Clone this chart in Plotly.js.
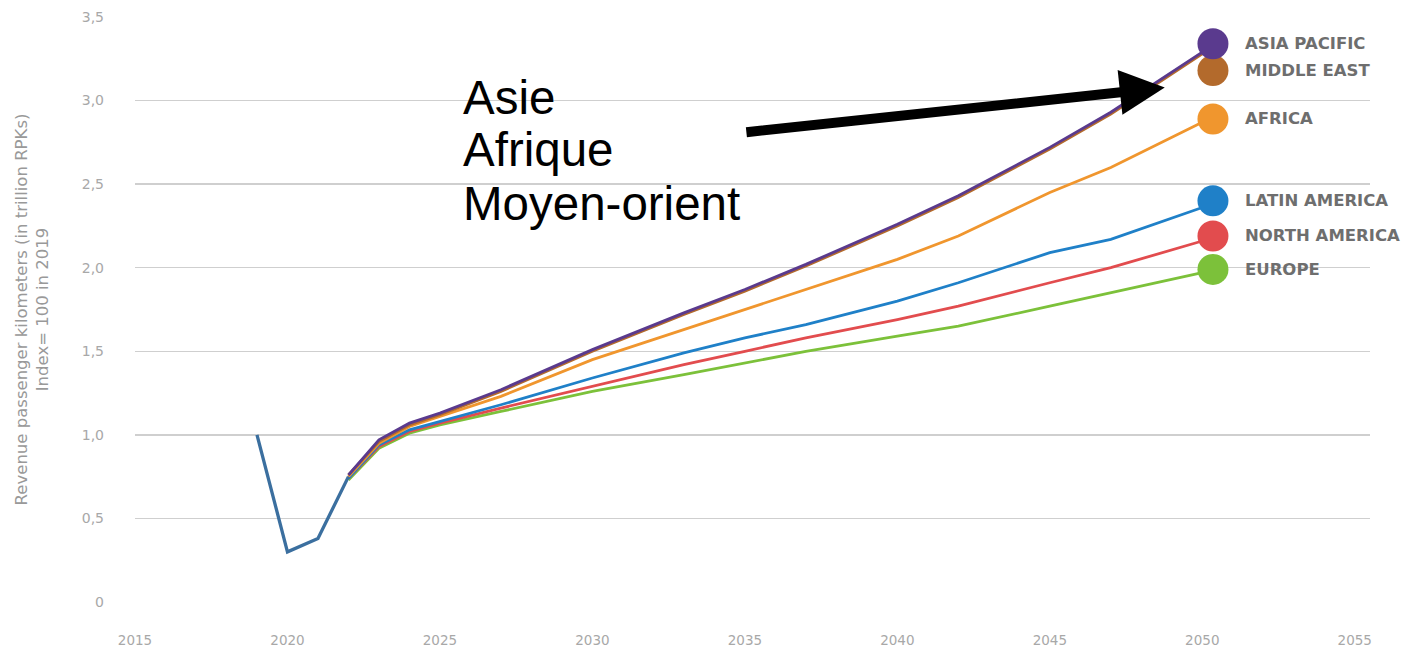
<!DOCTYPE html>
<html>
<head>
<meta charset="utf-8">
<script src="https://cdn.plot.ly/plotly-3.0.1.min.js"></script>
<style>html,body{margin:0;padding:0;background:#fff;}#chart{width:1412px;height:651px;}</style>
</head>
<body>
<div id="chart"></div>
<script>
// ---- data ----
const historyYears = [2019, 2020, 2021, 2022];
const historyValues = [1.0, 0.30, 0.38, 0.75];

const years = [2022, 2023, 2024, 2025, 2027, 2030, 2033, 2035, 2037, 2040, 2042, 2045, 2047, 2050];
const asiaPacific   = [0.76, 0.97, 1.07, 1.13, 1.27, 1.51, 1.73, 1.87, 2.02, 2.26, 2.43, 2.72, 2.93, 3.29];
const middleEast    = [0.76, 0.96, 1.06, 1.12, 1.26, 1.50, 1.72, 1.86, 2.01, 2.25, 2.42, 2.71, 2.92, 3.28];
const africa        = [0.75, 0.95, 1.05, 1.11, 1.23, 1.45, 1.63, 1.75, 1.87, 2.05, 2.19, 2.45, 2.60, 2.87];
const latinAmerica  = [0.74, 0.94, 1.03, 1.08, 1.18, 1.34, 1.49, 1.58, 1.66, 1.80, 1.91, 2.09, 2.17, 2.36];
const northAmerica  = [0.74, 0.93, 1.02, 1.07, 1.16, 1.29, 1.42, 1.50, 1.58, 1.69, 1.77, 1.91, 2.00, 2.16];
const europe        = [0.73, 0.92, 1.01, 1.06, 1.14, 1.26, 1.36, 1.43, 1.50, 1.59, 1.65, 1.77, 1.85, 1.97];

const regionNames = ["ASIA PACIFIC", "MIDDLE EAST", "AFRICA", "LATIN AMERICA", "NORTH AMERICA", "EUROPE"];
const labelYear = 2050.35;
const labelValues = [3.34, 3.18, 2.89, 2.40, 2.19, 1.99];

const yTickVals = [0, 0.5, 1, 1.5, 2, 2.5, 3, 3.5];
const yTickText = ["0", "0,5", "1,0", "1,5", "2,0", "2,5", "3,0", "3,5"];
const xTickVals = [2015, 2020, 2025, 2030, 2035, 2040, 2045, 2050, 2055];

const noteLines = ["Asie", "Afrique", "Moyen-orient"];
const noteLineValues = [3.02, 2.705, 2.385];

// ---- styles ----
const colors = ["#5a3a8e", "#b36a2c", "#f0962e", "#1f80c8", "#e24c4e", "#7cc13a"];
const seriesValues = [asiaPacific, middleEast, africa, latinAmerica, northAmerica, europe];
const font = "DejaVu Sans, sans-serif";

const traces = [];
for (let i = seriesValues.length - 1; i >= 0; i--) {
  traces.push({
    x: years, y: seriesValues[i], type: "scatter", mode: "lines",
    name: regionNames[i], line: {color: colors[i], width: 2.8}
  });
}
traces.push({
  x: historyYears, y: historyValues, type: "scatter", mode: "lines",
  name: "2019-2022", line: {color: "#3b6f9f", width: 3.3}
});
for (let i = seriesValues.length - 1; i >= 0; i--) {
  traces.push({
    x: [labelYear], y: [labelValues[i]], type: "scatter", mode: "markers",
    name: regionNames[i] + " label", marker: {color: colors[i], size: 31}, cliponaxis: false
  });
}

const annotations = regionNames.map((n, i) => ({
  x: 2051.35, y: labelValues[i], xref: "x", yref: "y", text: "<b>" + n + "</b>",
  showarrow: false, xanchor: "left", yanchor: "middle",
  font: {family: font, size: 16.5, color: "#6e6e6e"}
}));
noteLines.forEach((t, i) => annotations.push({
  x: 2025.7, y: noteLineValues[i], xref: "x", yref: "y", text: t, showarrow: false,
  xanchor: "left", yanchor: "middle",
  font: {family: "Liberation Sans, Arial, sans-serif", size: 47.5, color: "#000"}
}));
annotations.push({
  x: 2048.77, y: 3.078, ax: 2035.0, ay: 2.81, xref: "x", yref: "y", axref: "x", ayref: "y",
  text: "", showarrow: true, arrowhead: 2, arrowsize: 0.9, arrowwidth: 10, arrowcolor: "#000"
});

const layout = {
  width: 1412, height: 651,
  margin: {l: 135, r: 42, t: 17, b: 49},
  paper_bgcolor: "#fff", plot_bgcolor: "#fff",
  showlegend: false,
  xaxis: {
    range: [2015, 2055.5], tickvals: xTickVals, showgrid: false, zeroline: false,
    showline: false, ticks: "", ticklabelstandoff: 28,
    tickfont: {family: font, size: 13.5, color: "#a8a8a8"}
  },
  yaxis: {
    range: [0, 3.5], tickvals: yTickVals, ticktext: yTickText,
    showgrid: true, gridcolor: "#cfcfcf", gridwidth: 1.5, zeroline: false, showline: false,
    ticks: "", ticklabelstandoff: 30,
    tickfont: {family: font, size: 14, color: "#a8a8a8"},
    title: {text: "Revenue passenger kilometers (in trillion RPKs)<br>Index= 100 in 2019",
            font: {family: font, size: 16.5, color: "#999999"}, standoff: 28}
  },
  annotations: annotations
};

Plotly.newPlot("chart", traces, layout, {displayModeBar: false, staticPlot: true});
</script>
</body>
</html>
